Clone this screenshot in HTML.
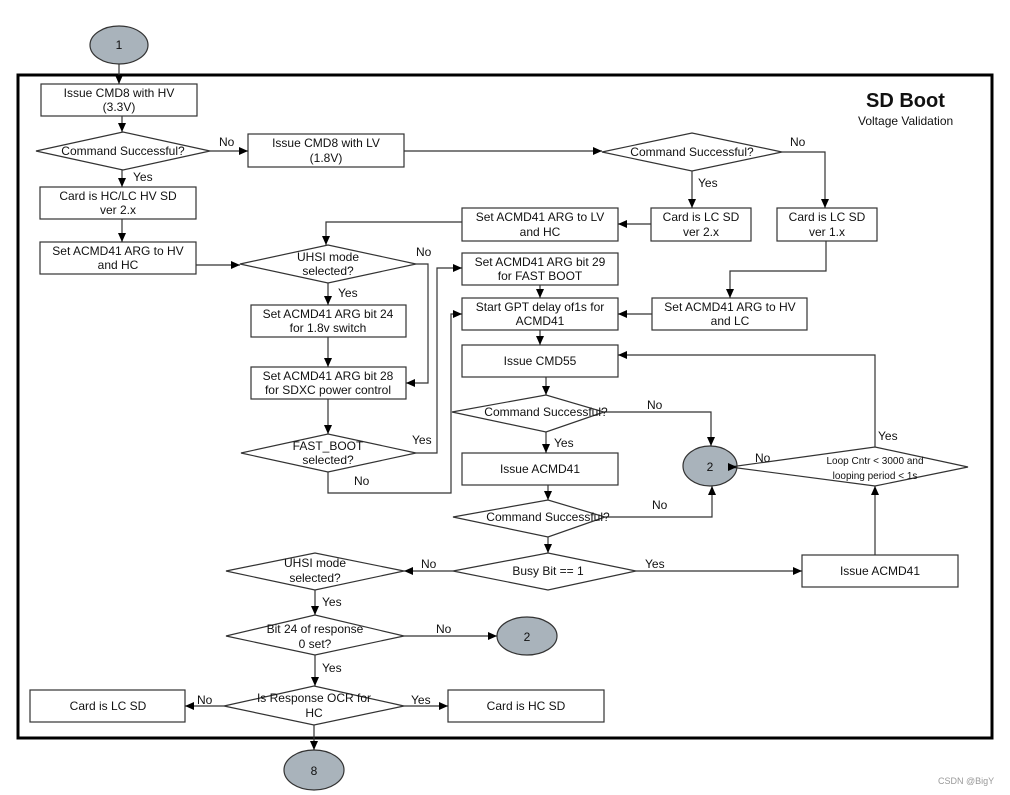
<!DOCTYPE html>
<html><head><meta charset="utf-8"><style>
html,body{margin:0;padding:0;background:#fff;}
svg{display:block;}
text{font-family:"Liberation Sans",sans-serif;font-size:12px;fill:#111;}
</style></head><body>
<svg width="1010" height="795" viewBox="0 0 1010 795" xmlns="http://www.w3.org/2000/svg">
<defs>
<marker id="a" markerWidth="10" markerHeight="10" refX="9" refY="5" orient="auto" markerUnits="userSpaceOnUse">
<path d="M0,1 L9,5 L0,9 z" fill="#000"/></marker>
</defs>
<g fill="none" stroke="#333" stroke-width="1.2">
<!-- frame -->
<rect x="18" y="75" width="974" height="663" stroke="#000" stroke-width="3"/>
<!-- circles -->
<ellipse cx="119" cy="45" rx="29" ry="19" fill="#a9b3bb"/>
<ellipse cx="710" cy="466" rx="27" ry="20" fill="#a9b3bb"/>
<ellipse cx="527" cy="636" rx="30" ry="19" fill="#a9b3bb"/>
<ellipse cx="314" cy="770" rx="30" ry="20" fill="#a9b3bb"/>
<!-- boxes -->
<rect x="41" y="84" width="156" height="32"/>
<rect x="248" y="134" width="156" height="33"/>
<rect x="40" y="187" width="156" height="32"/>
<rect x="40" y="242" width="156" height="32"/>
<rect x="651" y="208" width="100" height="33"/>
<rect x="777" y="208" width="100" height="33"/>
<rect x="462" y="208" width="156" height="33"/>
<rect x="462" y="253" width="156" height="32"/>
<rect x="462" y="298" width="156" height="32"/>
<rect x="652" y="298" width="155" height="32"/>
<rect x="251" y="305" width="155" height="32"/>
<rect x="251" y="367" width="155" height="32"/>
<rect x="462" y="345" width="156" height="32"/>
<rect x="462" y="453" width="156" height="32"/>
<rect x="802" y="555" width="156" height="32"/>
<rect x="30" y="690" width="155" height="32"/>
<rect x="448" y="690" width="156" height="32"/>
<!-- diamonds -->
<polygon points="36,151 123,132 210,151 123,170"/>
<polygon points="602,152 692,133 782,152 692,171"/>
<polygon points="240,264 328,245 416,264 328,283"/>
<polygon points="241,453 328,434 416,453 328,472"/>
<polygon points="452,412 546,395 604,412 546,432"/>
<polygon points="453,517 548,500 605,517 548,537"/>
<polygon points="453,571 548,553 636,571 548,590"/>
<polygon points="730,467 875,447 968,467 875,486"/>
<polygon points="226,571 315,553 404,571 315,590"/>
<polygon points="226,636 315,615 404,636 315,655"/>
<polygon points="224,706 314,686 404,706 314,725"/>
<!-- connectors -->
<path d="M119,64 V84" marker-end="url(#a)"/>
<path d="M122,116 V132" marker-end="url(#a)"/>
<path d="M210,151 H248" marker-end="url(#a)"/>
<path d="M122,170 V187" marker-end="url(#a)"/>
<path d="M122,219 V242" marker-end="url(#a)"/>
<path d="M196,265 H240" marker-end="url(#a)"/>
<path d="M404,151 H602" marker-end="url(#a)"/>
<path d="M782,152 H825 V208" marker-end="url(#a)"/>
<path d="M692,171 V208" marker-end="url(#a)"/>
<path d="M651,224 H618" marker-end="url(#a)"/>
<path d="M462,222 H326 V245" marker-end="url(#a)"/>
<path d="M328,283 V305" marker-end="url(#a)"/>
<path d="M328,337 V367" marker-end="url(#a)"/>
<path d="M416,264 H428 V383 H406" marker-end="url(#a)"/>
<path d="M328,399 V434" marker-end="url(#a)"/>
<path d="M416,453 H437 V268 H462" marker-end="url(#a)"/>
<path d="M328,472 V493 H451 V314 H462" marker-end="url(#a)"/>
<path d="M540,285 V298" marker-end="url(#a)"/>
<path d="M826,241 V271 H730 V298" marker-end="url(#a)"/>
<path d="M652,314 H618" marker-end="url(#a)"/>
<path d="M540,330 V345" marker-end="url(#a)"/>
<path d="M546,377 V395" marker-end="url(#a)"/>
<path d="M604,412 H711 V446" marker-end="url(#a)"/>
<path d="M546,432 V453" marker-end="url(#a)"/>
<path d="M548,485 V500" marker-end="url(#a)"/>
<path d="M605,517 H712 V486" marker-end="url(#a)"/>
<path d="M548,537 V553" marker-end="url(#a)"/>
<path d="M636,571 H802" marker-end="url(#a)"/>
<path d="M875,555 V486" marker-end="url(#a)"/>
<path d="M730,467 H737" marker-end="url(#a)"/>
<path d="M875,447 V355 H618" marker-end="url(#a)"/>
<path d="M453,571 H404" marker-end="url(#a)"/>
<path d="M315,590 V615" marker-end="url(#a)"/>
<path d="M404,636 H497" marker-end="url(#a)"/>
<path d="M315,655 V686" marker-end="url(#a)"/>
<path d="M224,706 H185" marker-end="url(#a)"/>
<path d="M404,706 H448" marker-end="url(#a)"/>
<path d="M314,725 V750" marker-end="url(#a)"/>
</g>
<g text-anchor="middle">
<text x="119" y="49">1</text>
<text x="710" y="471">2</text>
<text x="527" y="641">2</text>
<text x="314" y="775">8</text>
<text x="119" y="97">Issue CMD8 with HV</text><text x="119" y="111">(3.3V)</text>
<text x="326" y="147">Issue CMD8 with LV</text><text x="326" y="162">(1.8V)</text>
<text x="118" y="200">Card is HC/LC HV SD</text><text x="118" y="214">ver 2.x</text>
<text x="118" y="255">Set ACMD41 ARG to HV</text><text x="118" y="269">and HC</text>
<text x="701" y="221">Card is LC SD</text><text x="701" y="236">ver 2.x</text>
<text x="827" y="221">Card is LC SD</text><text x="827" y="236">ver 1.x</text>
<text x="540" y="221">Set ACMD41 ARG to LV</text><text x="540" y="236">and HC</text>
<text x="540" y="266">Set ACMD41 ARG bit 29</text><text x="540" y="280">for FAST BOOT</text>
<text x="540" y="311">Start GPT delay of1s for</text><text x="540" y="325">ACMD41</text>
<text x="730" y="311">Set ACMD41 ARG to HV</text><text x="730" y="325">and LC</text>
<text x="328" y="318">Set ACMD41 ARG bit 24</text><text x="328" y="332">for 1.8v switch</text>
<text x="328" y="380">Set ACMD41 ARG bit 28</text><text x="328" y="394">for SDXC power control</text>
<text x="540" y="365">Issue CMD55</text>
<text x="540" y="473">Issue ACMD41</text>
<text x="880" y="575">Issue ACMD41</text>
<text x="108" y="710">Card is LC SD</text>
<text x="526" y="710">Card is HC SD</text>
<text x="123" y="155">Command Successful?</text>
<text x="692" y="156">Command Successful?</text>
<text x="328" y="261">UHSI mode</text><text x="328" y="275">selected?</text>
<text x="328" y="450">FAST_BOOT</text><text x="328" y="464">selected?</text>
<text x="546" y="416">Command Successful?</text>
<text x="548" y="521">Command Successful?</text>
<text x="548" y="575">Busy Bit == 1</text>
<text x="875" y="464" style="font-size:10px">Loop Cntr &lt; 3000 and</text><text x="875" y="479" style="font-size:10px">looping period &lt; 1s</text>
<text x="315" y="567">UHSI mode</text><text x="315" y="582">selected?</text>
<text x="315" y="633">Bit 24 of response</text><text x="315" y="648">0 set?</text>
<text x="314" y="702">Is Response OCR for</text><text x="314" y="717">HC</text>
</g>
<g>
<text x="219" y="146">No</text>
<text x="133" y="181">Yes</text>
<text x="790" y="146">No</text>
<text x="698" y="187">Yes</text>
<text x="416" y="256">No</text>
<text x="338" y="297">Yes</text>
<text x="412" y="444">Yes</text>
<text x="354" y="485">No</text>
<text x="647" y="409">No</text>
<text x="554" y="447">Yes</text>
<text x="652" y="509">No</text>
<text x="645" y="568">Yes</text>
<text x="755" y="462">No</text>
<text x="878" y="440">Yes</text>
<text x="421" y="568">No</text>
<text x="322" y="606">Yes</text>
<text x="436" y="633">No</text>
<text x="322" y="672">Yes</text>
<text x="197" y="704">No</text>
<text x="411" y="704">Yes</text>
<text x="866" y="107" style="font-size:20px;font-weight:bold">SD Boot</text>
<text x="858" y="125" style="font-size:12px">Voltage Validation</text>
<text x="938" y="784" style="font-size:9px;fill:#999">CSDN @BigY</text>
</g>
</svg>
</body></html>
